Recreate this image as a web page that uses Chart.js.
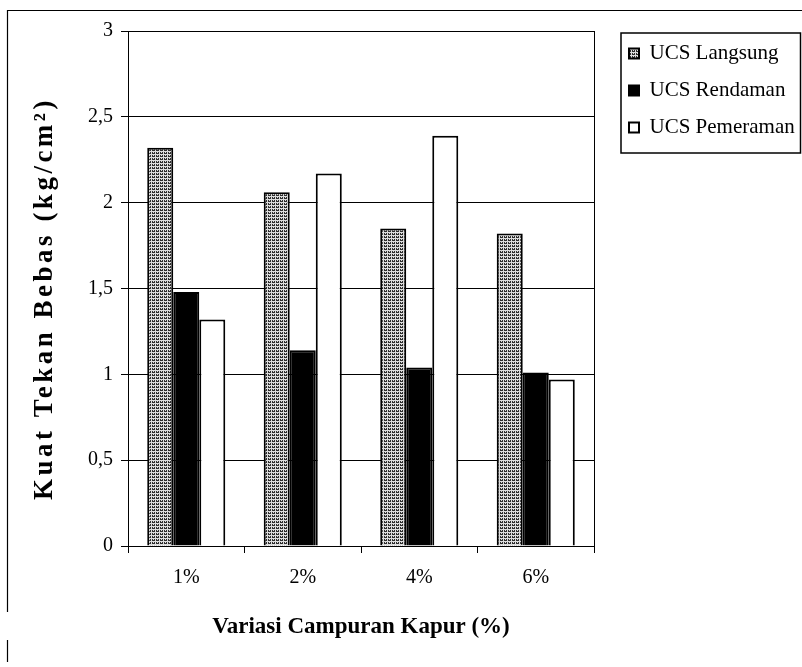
<!DOCTYPE html>
<html>
<head>
<meta charset="utf-8">
<script src="https://cdn.jsdelivr.net/npm/chart.js@4/dist/chart.umd.min.js"></script>
<style>
  html, body { margin: 0; padding: 0; background: #fff; }
  #wrap { width: 802px; height: 667px; }
</style>
</head>
<body>
<div id="wrap"><canvas id="ucsChart" width="802" height="667"></canvas></div>
<script>
// Kuat tekan bebas per variasi kapur
const categories = ['1%', '2%', '4%', '6%'];
const ucsLangsung = [2.32, 2.06, 1.85, 1.82];
const ucsRendaman = [1.48, 1.14, 1.04, 1.01];
const ucsPemeraman = [1.32, 2.17, 2.39, 0.97];
const seriesNames = ['UCS Langsung', 'UCS Rendaman', 'UCS Pemeraman'];
const yTicks = [0, 0.5, 1, 1.5, 2, 2.5, 3];

const SERIF = "'Liberation Serif', 'Times New Roman', serif";

// grey stipple fill like the scanned print
function makeStipple() {
  const c = document.createElement('canvas');
  c.width = 4; c.height = 3;
  const g = c.getContext('2d');
  g.fillStyle = '#dcdcdc';
  g.fillRect(0, 0, 4, 3);
  g.fillStyle = '#2e2e2e';
  g.fillRect(0, 0, 3, 1);
  g.fillRect(0, 2, 1, 1);
  g.fillRect(2, 2, 1, 1);
  return g.createPattern(c, 'repeat');
}

// outer frame (top + left edge of the scan) and legend box
const framePlugin = {
  id: 'frame',
  afterDraw(chart) {
    const ctx = chart.ctx;
    ctx.save();
    ctx.strokeStyle = '#000';
    ctx.lineWidth = 1.2;
    ctx.beginPath();
    ctx.moveTo(7, 10.5); ctx.lineTo(802, 10.5);
    ctx.moveTo(7.5, 10); ctx.lineTo(7.5, 612);
    ctx.moveTo(7.5, 640); ctx.lineTo(7.5, 662);
    ctx.stroke();

    const hb = chart.legend && chart.legend.legendHitBoxes;
    if (hb && hb.length) {
      const first = hb[0], last = hb[hb.length - 1];
      const left = first.left - 8;
      const top = first.top - 10;
      const bottom = last.top + last.height + 15;
      const right = chart.width - 1.5;
      ctx.lineWidth = 1.5;
      ctx.strokeRect(left, top, right - left, bottom - top);
    }
    ctx.restore();
  }
};

// spaced-out lettering for the y title, as in the print
const spacedTitle = {
  id: 'spacedTitle',
  afterUpdate(chart) {
    const s = chart.scales.y;
    if (!s || s._spaced) return;
    const orig = s.drawTitle;
    s.drawTitle = function () {
      this.ctx.save();
      this.ctx.letterSpacing = '3.5px';
      this.ctx.translate(0, 10);
      orig.call(this);
      this.ctx.restore();
    };
    s._spaced = true;
  }
};

const stipple = makeStipple();

new Chart(document.getElementById('ucsChart'), {
  type: 'bar',
  data: {
    labels: categories,
    datasets: [
      { label: seriesNames[0], data: ucsLangsung, backgroundColor: stipple, borderColor: '#000', borderWidth: 2, xAxisID: 'x', yAxisID: 'y' },
      { label: seriesNames[1], data: ucsRendaman, backgroundColor: '#000', borderColor: '#000', borderWidth: 2, xAxisID: 'x', yAxisID: 'y' },
      { label: seriesNames[2], data: ucsPemeraman, backgroundColor: '#fff', borderColor: '#000', borderWidth: 2, xAxisID: 'x', yAxisID: 'y' },
    ]
  },
  options: {
    responsive: false,
    animation: false,
    devicePixelRatio: 1,
    categoryPercentage: 0.67,
    barPercentage: 1.0,
    layout: { padding: { left: 10, top: 27, right: 0, bottom: 10 } },
    plugins: {
      tooltip: { enabled: false },
      legend: {
        position: 'right',
        align: 'start',
        maxWidth: 189,
        labels: {
          color: '#000',
          font: { family: SERIF, size: 21 },
          boxWidth: 10,
          boxHeight: 10,
          padding: 16,
        }
      }
    },
    scales: {
      x: {
        position: 'bottom',
        offset: true,
        grid: { offset: true, drawOnChartArea: false, drawTicks: true, tickLength: 7, color: '#000' },
        border: { display: true, color: '#000', width: 1 },
        ticks: { color: '#000', font: { family: SERIF, size: 20 }, padding: 13 },
        title: {
          display: true,
          text: 'Variasi Campuran Kapur (%)',
          color: '#000',
          font: { family: SERIF, size: 23, weight: 'bold' },
          padding: { top: 0, bottom: 16 }
        },
        afterFit: s => { s.height = 111; }
      },
      x2: {
        type: 'category',
        position: 'top',
        labels: categories,
        grid: { display: false },
        border: { display: false },
        ticks: { display: false },
        afterFit: s => { s.height = 4; }
      },
      y: {
        position: 'left',
        min: 0,
        max: 3,
        afterBuildTicks: s => { s.ticks = yTicks.map(v => ({ value: v })); },
        grid: { color: '#000', lineWidth: 1, tickLength: 7 },
        border: { display: true, color: '#000', width: 1 },
        ticks: {
          color: '#000',
          font: { family: SERIF, size: 20 },
          padding: 8,
          callback: v => String(v).replace('.', ',')
        },
        title: {
          display: true,
          text: 'Kuat Tekan Bebas (kg/cm²)',
          color: '#000',
          font: { family: SERIF, size: 27, weight: 'bold' },
          padding: { top: 19, bottom: 0 }
        },
        afterFit: s => { s.width = 118; }
      },
      y2: {
        type: 'linear',
        position: 'right',
        grid: { drawOnChartArea: false, drawTicks: false },
        border: { display: true, color: '#000', width: 1 },
        ticks: { display: false },
        afterFit: s => { s.width = 19; }
      }
    }
  },
  plugins: [framePlugin, spacedTitle]
});
</script>
</body>
</html>
